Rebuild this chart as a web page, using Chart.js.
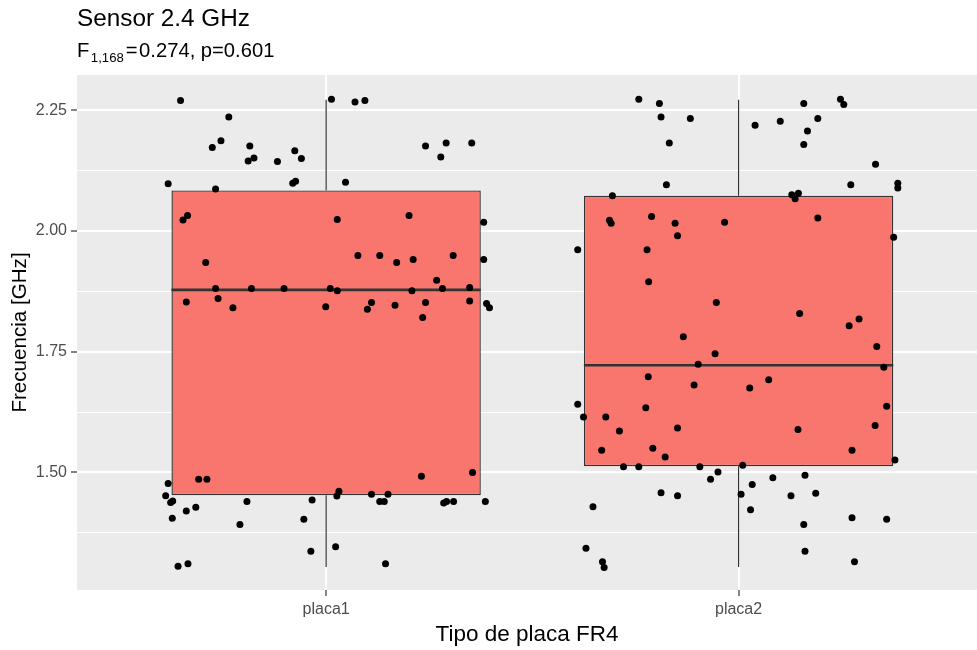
<!DOCTYPE html>
<html>
<head>
<meta charset="utf-8">
<script src="https://cdn.jsdelivr.net/npm/chart.js@4.4.0/dist/chart.umd.min.js"></script>
<style>
  body { margin: 0; background: #ffffff; }
  canvas { display: block; }
</style>
</head>
<body>
<canvas id="chart" width="977" height="650"></canvas>
<script>
// ---- data ----
const categories = ["placa1", "placa2"];
const titleText = "Sensor 2.4 GHz";
const statDf = "1,168";
const statF = "0.274";
const statP = "0.601";
const xTitle = "Tipo de placa FR4";
const yTitle = "Frecuencia [GHz]";

const yMajorTicks = [1.5, 1.75, 2.0, 2.25];
const yMinorTicks = [1.375, 1.625, 1.875, 2.125];

// boxplot stats per category
const whiskerLow = [1.304, 1.304];
const boxQ1 = [1.453, 1.513];
const boxMedian = [1.878, 1.722];
const boxQ3 = [2.084, 2.073];
const whiskerHigh = [2.272, 2.272];

// jittered observations (x = jittered category position, y = GHz)
const placa1X = [0.647, 0.764, 0.745, 0.724, 0.815, 0.811, 0.825, 0.882, 0.924, 0.940,
  0.617, 0.919, 0.926, 0.732, 0.653, 0.664, 0.708, 0.732, 0.819, 0.898,
  1.010, 0.661, 0.738, 0.774, 0.999, 0.617, 0.691, 0.711, 0.611, 0.623,
  0.628, 0.684, 0.661, 0.808, 0.966, 0.627, 0.791, 0.946, 0.963, 0.641,
  0.665, 1.013, 1.070, 1.094, 1.241, 1.291, 1.353, 1.278, 1.047, 1.027,
  1.201, 1.382, 1.077, 1.130, 1.171, 1.211, 1.308, 1.382, 1.268, 1.282,
  1.348, 1.027, 1.208, 1.110, 1.100, 1.167, 1.241, 1.348, 1.389, 1.396,
  1.234, 1.231, 1.355, 1.031, 1.026, 1.110, 1.150, 1.130, 1.141, 1.285,
  1.292, 1.309, 1.386, 1.023, 1.144];
const placa1Y = [2.270, 2.236, 2.187, 2.173, 2.176, 2.145, 2.151, 2.144, 2.166, 2.150,
  2.098, 2.099, 2.103, 2.087, 2.023, 2.032, 1.935, 1.881, 1.881, 1.881,
  1.881, 1.853, 1.860, 1.841, 1.843, 1.477, 1.486, 1.486, 1.452, 1.438,
  1.441, 1.428, 1.420, 1.440, 1.443, 1.405, 1.392, 1.403, 1.337, 1.306,
  1.311, 2.273, 2.267, 2.270, 2.176, 2.182, 2.182, 2.153, 2.101, 2.024,
  2.032, 2.018, 1.949, 1.949, 1.935, 1.941, 1.949, 1.941, 1.898, 1.881,
  1.883, 1.876, 1.876, 1.852, 1.838, 1.846, 1.852, 1.855, 1.850, 1.841,
  1.821, 1.492, 1.500, 1.461, 1.451, 1.455, 1.455, 1.440, 1.440, 1.437,
  1.440, 1.440, 1.440, 1.346, 1.311];

const placa2X = [1.758, 1.808, 1.812, 1.883, 1.832, 1.825, 1.694, 2.040, 1.687, 1.691,
  1.789, 1.846, 1.852, 1.966, 1.610, 1.778, 1.782, 1.946, 1.866, 1.943,
  1.902, 1.781, 1.892, 2.027, 1.610, 1.775, 1.624, 1.678, 1.711, 1.852,
  1.668, 1.792, 1.822, 1.721, 1.758, 1.906, 2.010, 1.950, 1.932, 2.033,
  2.006, 1.812, 1.852, 2.029, 1.647, 1.630, 1.670, 1.674, 2.158, 2.247,
  2.255, 2.101, 2.192, 2.167, 2.158, 2.332, 2.272, 2.386, 2.386, 2.129,
  2.145, 2.137, 2.192, 2.376, 2.148, 2.292, 2.268, 2.335, 2.352, 2.073,
  2.359, 2.144, 2.331, 2.275, 2.379, 2.083, 2.161, 2.127, 2.187, 2.158,
  2.275, 2.359, 2.161, 2.281];
const placa2Y = [2.273, 2.264, 2.236, 2.233, 2.182, 2.096, 2.073, 2.219, 2.022, 2.016,
  2.030, 2.016, 1.990, 2.018, 1.961, 1.961, 1.895, 1.852, 1.781, 1.746,
  1.724, 1.698, 1.681, 1.675, 1.641, 1.634, 1.615, 1.615, 1.586, 1.592,
  1.546, 1.550, 1.532, 1.512, 1.512, 1.512, 1.515, 1.501, 1.486, 1.475,
  1.455, 1.458, 1.452, 1.423, 1.429, 1.343, 1.315, 1.303, 2.264, 2.273,
  2.262, 2.227, 2.233, 2.207, 2.179, 2.138, 2.096, 2.099, 2.089, 2.075,
  2.078, 2.067, 2.027, 1.987, 1.829, 1.818, 1.804, 1.761, 1.718, 1.692,
  1.637, 1.589, 1.597, 1.546, 1.526, 1.489, 1.494, 1.452, 1.457, 1.392,
  1.406, 1.403, 1.337, 1.315];

// ---- layout constants ----
const X_MIN = 0.396, X_MAX = 2.578;
const Y_MIN = 1.2566, Y_MAX = 2.323;
const BOX_WIDTH = 0.75;
const FONT = '"Liberation Sans", Arial, sans-serif';
const BOX_LINE = "#333333";

Chart.defaults.font.family = FONT;

const isMajor = (v) => yMajorTicks.some((t) => Math.abs(t - v) < 1e-9);

// whiskers: vertical segments from hinges to whisker ends, broken with nulls
const whiskerData = [];
categories.forEach((c, i) => {
  whiskerData.push({ x: i + 1, y: boxQ3[i] }, { x: i + 1, y: whiskerHigh[i] }, { x: i + 1, y: null });
  whiskerData.push({ x: i + 1, y: boxQ1[i] }, { x: i + 1, y: whiskerLow[i] }, { x: i + 1, y: null });
});

const medianData = [];
categories.forEach((c, i) => {
  medianData.push({ x: i + 1 - BOX_WIDTH / 2, y: boxMedian[i] },
                  { x: i + 1 + BOX_WIDTH / 2, y: boxMedian[i] },
                  { x: i + 1, y: null });
});

const toPoints = (xs, ys) => xs.map((x, i) => ({ x: x, y: ys[i] }));

const panelBackground = {
  id: "panelBackground",
  beforeDraw(chart) {
    const { ctx, chartArea: a } = chart;
    ctx.save();
    ctx.fillStyle = "#EBEBEB";
    ctx.fillRect(a.left, a.top, a.right - a.left, a.bottom - a.top);
    ctx.restore();
  }
};

// title + subtitle with a subscript, like ggplot's plotmath subtitle
const titles = {
  id: "titles",
  afterDraw(chart) {
    const ctx = chart.ctx;
    const x0 = chart.chartArea.left;
    ctx.save();
    ctx.fillStyle = "#000000";
    ctx.textBaseline = "alphabetic";
    ctx.textAlign = "left";
    ctx.font = "24.3px " + FONT;
    ctx.fillText(titleText, x0, 25.5);

    ctx.font = "20.2px " + FONT;
    ctx.fillText("F", x0, 56.5);
    let cx = x0 + ctx.measureText("F").width + 1.5;
    ctx.font = "13.2px " + FONT;
    ctx.fillText(statDf, cx, 61.5);
    cx += ctx.measureText(statDf).width + 2;
    ctx.font = "20.2px " + FONT;
    ctx.fillText("=", cx, 56.5);
    cx += ctx.measureText("=").width + 1.5;
    ctx.fillText(statF + ", p=" + statP, cx, 56.5);
    ctx.restore();
  }
};

new Chart(document.getElementById("chart"), {
  type: "scatter",
  data: {
    datasets: [
      {
        type: "scatter",
        label: categories[0],
        data: toPoints(placa1X, placa1Y),
        backgroundColor: "#000000",
        borderWidth: 0,
        pointRadius: 3.5,
        order: 0
      },
      {
        type: "scatter",
        label: categories[1],
        data: toPoints(placa2X, placa2Y),
        backgroundColor: "#000000",
        borderWidth: 0,
        pointRadius: 3.5,
        order: 0
      },
      {
        type: "line",
        label: "median",
        data: medianData,
        borderColor: BOX_LINE,
        borderWidth: 2.6,
        pointRadius: 0,
        spanGaps: false,
        order: 1
      },
      {
        type: "bar",
        label: "box",
        data: categories.map((c, i) => ({ x: i + 1, y: [boxQ1[i], boxQ3[i]] })),
        backgroundColor: "#F8766D",
        borderColor: BOX_LINE,
        borderWidth: 1.4,
        borderSkipped: false,
        categoryPercentage: BOX_WIDTH,
        barPercentage: 1,
        order: 2
      },
      {
        type: "line",
        label: "whiskers",
        data: whiskerData,
        borderColor: BOX_LINE,
        borderWidth: 1.2,
        pointRadius: 0,
        spanGaps: false,
        order: 3
      }
    ]
  },
  options: {
    responsive: false,
    animation: false,
    events: [],
    layout: { autoPadding: false, padding: { top: 75, left: 0, right: 0, bottom: 0 } },
    plugins: {
      legend: { display: false },
      tooltip: { enabled: false },
      title: { display: false }
    },
    scales: {
      x: {
        type: "linear",
        min: X_MIN,
        max: X_MAX,
        offset: false,
        afterBuildTicks: (s) => { s.ticks = categories.map((c, i) => ({ value: i + 1 })); },
        afterFit: (s) => { s.height = 60; },
        ticks: {
          callback: (v) => categories[Math.round(v) - 1] || "",
          color: "#4D4D4D",
          font: { size: 16 },
          padding: 4,
          maxRotation: 0,
          autoSkip: false
        },
        grid: {
          color: "#FFFFFF",
          lineWidth: 2,
          offset: false,
          tickLength: 6,
          tickColor: BOX_LINE,
          tickWidth: 1.2
        },
        border: { display: false },
        title: {
          display: true,
          text: xTitle,
          color: "#000000",
          font: { size: 22.5 },
          padding: { top: 0, bottom: 2 }
        }
      },
      y: {
        type: "linear",
        min: Y_MIN,
        max: Y_MAX,
        afterBuildTicks: (s) => {
          s.ticks = yMinorTicks.concat(yMajorTicks).sort((a, b) => a - b).map((v) => ({ value: v }));
        },
        afterFit: (s) => { s.width = 77; },
        ticks: {
          callback: (v) => (isMajor(v) ? v.toFixed(2) : ""),
          color: "#4D4D4D",
          font: { size: 16 },
          padding: 4,
          autoSkip: false
        },
        grid: {
          color: "#FFFFFF",
          lineWidth: (ctx) => (ctx.tick && isMajor(ctx.tick.value) ? 2 : 1),
          tickLength: 6,
          tickColor: (ctx) => (ctx.tick && isMajor(ctx.tick.value) ? BOX_LINE : "rgba(0,0,0,0)"),
          tickWidth: 1.2
        },
        border: { display: false },
        title: {
          display: true,
          text: yTitle,
          color: "#000000",
          font: { size: 20.6 },
          padding: { top: 8, bottom: 0 }
        }
      }
    }
  },
  plugins: [panelBackground, titles]
});
</script>
</body>
</html>
